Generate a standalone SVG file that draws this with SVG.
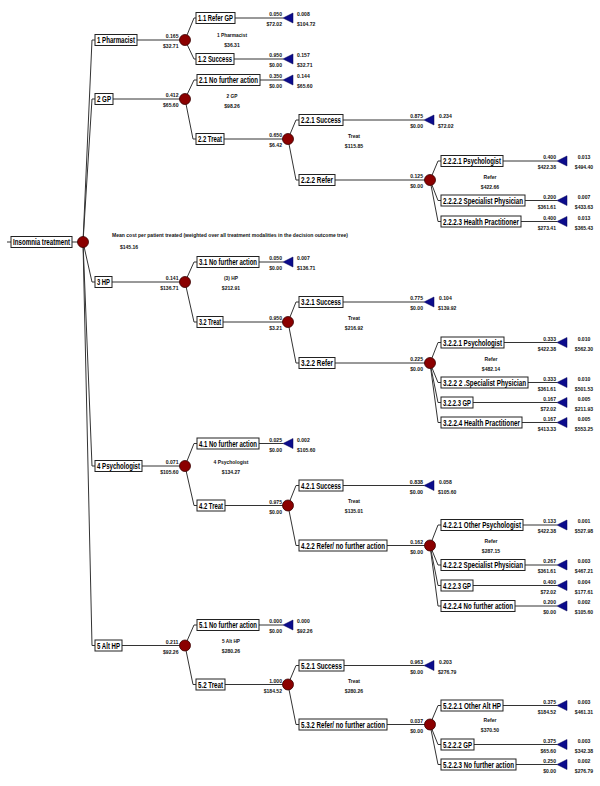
<svg xmlns="http://www.w3.org/2000/svg" width="600" height="786" viewBox="0 0 600 786">
<style>
.ln{stroke:#333;stroke-width:1;fill:none}
.bx{fill:#fff;stroke:#222;stroke-width:1}
.lb{font-family:"Liberation Sans",Arial,sans-serif;font-size:8.5px;font-weight:bold;fill:#000}
.sm{font-family:"Liberation Sans",Arial,sans-serif;font-size:6px;font-weight:bold;fill:#111}
.ch{fill:#8b0000;stroke:#3a0000;stroke-width:0.8}
.tm{fill:#0c0c8c;stroke:#000050;stroke-width:0.5}
</style>
<rect width="600" height="786" fill="#fff"/>
<g id="connectors">
<path class="ln" d="M7,242H83"/>
<path class="ln" d="M83,242L92,40H95M83,242L92,99H95M83,242L92,282H95M83,242L92,466H95M83,242L92,645.5H95"/>
<path class="ln" d="M137,40H185M185,40L194,18H196M185,40L194,59H196"/>
<path class="ln" d="M235,18H283M234,59H283"/>
<path class="ln" d="M113,99H185M185,99L194,80H197M185,99L193,139H196"/>
<path class="ln" d="M260,80H283M224,139H288M288,139L296,120H299M288,139L296,180H299"/>
<path class="ln" d="M343,120H424M335,180H430M430,180L438,161H441M430,180L438,200.5H441M430,180L438,221.5H441"/>
<path class="ln" d="M503,161H557M525,200.5H557M521,221.5H557"/>
<path class="ln" d="M112,282H185M185,282L194,262H197M185,282L194,322H197"/>
<path class="ln" d="M259,262H283M223,322H288M288,322L296,302H299M288,322L296,363H299"/>
<path class="ln" d="M343,302H424M335,363H430M430,363L438,342.5H441M430,363L438,382.5H441M430,363L438,402.5H441M430,363L438,422.5H441"/>
<path class="ln" d="M504,342.5H557M528,382.5H557M473,402.5H557M522,422.5H557"/>
<path class="ln" d="M142,466H185M185,466L194,443.5H197M185,466L194,505.5H197"/>
<path class="ln" d="M259,443.5H283M225,505.5H288M288,505.5L296,485.5H299M288,505.5L296,545.5H299"/>
<path class="ln" d="M343,485.5H424M387,545.5H430M430,545.5L438,525H441M430,545.5L438,565H441M430,545.5L438,585.5H441M430,545.5L438,606H441"/>
<path class="ln" d="M523,525H557M525,565H557M473,585.5H557M515,606H557"/>
<path class="ln" d="M122,645.5H185M185,645.5L194,625H197M185,645.5L193,684.5H196"/>
<path class="ln" d="M259,625H283M225,684.5H288M288,684.5L296,665.5H299M288,684.5L296,724.5H299"/>
<path class="ln" d="M344,665.5H424M387,724.5H430M430,724.5L438,705.5H441M430,724.5L438,744.5H441M430,724.5L438,764.5H441"/>
<path class="ln" d="M503,705.5H557M474,744.5H557M516,764.5H557"/>
</g>
<g id="n-root">
<rect class="bx" x="11" y="236.5" width="61" height="11"/>
<text class="lb" x="13" y="245" textLength="57" lengthAdjust="spacingAndGlyphs">Insomnia treatment</text>
<circle class="ch" cx="83" cy="242" r="5.5"/>
<text class="sm" x="112" y="237" textLength="236" lengthAdjust="spacingAndGlyphs">Mean cost per patient treated (weighted over all treatment modalities in the decision outcome tree)</text>
<text class="sm" x="119.9" y="249" textLength="18.3" lengthAdjust="spacingAndGlyphs">$145.16</text>
</g>
<g id="n-1">
<rect class="bx" x="95" y="34.5" width="42" height="11"/>
<text class="lb" x="97" y="43" textLength="38" lengthAdjust="spacingAndGlyphs">1 Pharmacist</text>
<circle class="ch" cx="185" cy="40" r="5.5"/>
<text class="sm" x="165.8" y="38" textLength="12.7" lengthAdjust="spacingAndGlyphs">0.165</text>
<text class="sm" x="163" y="48" textLength="15.5" lengthAdjust="spacingAndGlyphs">$32.71</text>
<text class="sm" x="217" y="36.5" textLength="30" lengthAdjust="spacingAndGlyphs">1 Pharmacist</text>
<text class="sm" x="224.25" y="46.5" textLength="15.5" lengthAdjust="spacingAndGlyphs">$36.31</text>
</g>
<g id="n-1-1">
<rect class="bx" x="196" y="12.5" width="39" height="11"/>
<text class="lb" x="198" y="21" textLength="35" lengthAdjust="spacingAndGlyphs">1.1 Refer GP</text>
<polygon class="tm" points="283,18 293,13 293,23"/>
<text class="sm" x="269.3" y="16" textLength="12.7" lengthAdjust="spacingAndGlyphs">0.050</text>
<text class="sm" x="266.5" y="26" textLength="15.5" lengthAdjust="spacingAndGlyphs">$72.02</text>
<text class="sm" x="297" y="16" textLength="12.7" lengthAdjust="spacingAndGlyphs">0.008</text>
<text class="sm" x="297" y="26" textLength="18.3" lengthAdjust="spacingAndGlyphs">$104.72</text>
</g>
<g id="n-1-2">
<rect class="bx" x="196" y="53.5" width="38" height="11"/>
<text class="lb" x="198" y="62" textLength="34" lengthAdjust="spacingAndGlyphs">1.2 Success</text>
<polygon class="tm" points="283,59 293,54 293,64"/>
<text class="sm" x="269.3" y="57" textLength="12.7" lengthAdjust="spacingAndGlyphs">0.950</text>
<text class="sm" x="269.3" y="67" textLength="12.7" lengthAdjust="spacingAndGlyphs">$0.00</text>
<text class="sm" x="297" y="57" textLength="12.7" lengthAdjust="spacingAndGlyphs">0.157</text>
<text class="sm" x="297" y="67" textLength="15.5" lengthAdjust="spacingAndGlyphs">$32.71</text>
</g>
<g id="n-2">
<rect class="bx" x="95" y="93.5" width="18" height="11"/>
<text class="lb" x="97" y="102" textLength="14" lengthAdjust="spacingAndGlyphs">2 GP</text>
<circle class="ch" cx="185" cy="99" r="5.5"/>
<text class="sm" x="165.8" y="97" textLength="12.7" lengthAdjust="spacingAndGlyphs">0.412</text>
<text class="sm" x="163" y="107" textLength="15.5" lengthAdjust="spacingAndGlyphs">$65.60</text>
<text class="sm" x="226.5" y="97.5" textLength="11" lengthAdjust="spacingAndGlyphs">2 GP</text>
<text class="sm" x="224.25" y="107.5" textLength="15.5" lengthAdjust="spacingAndGlyphs">$98.26</text>
</g>
<g id="n-2-1">
<rect class="bx" x="197" y="74.5" width="63" height="11"/>
<text class="lb" x="199" y="83" textLength="59" lengthAdjust="spacingAndGlyphs">2.1 No further action</text>
<polygon class="tm" points="283,80 293,75 293,85"/>
<text class="sm" x="269.3" y="78" textLength="12.7" lengthAdjust="spacingAndGlyphs">0.350</text>
<text class="sm" x="269.3" y="88" textLength="12.7" lengthAdjust="spacingAndGlyphs">$0.00</text>
<text class="sm" x="297" y="78" textLength="12.7" lengthAdjust="spacingAndGlyphs">0.144</text>
<text class="sm" x="297" y="88" textLength="15.5" lengthAdjust="spacingAndGlyphs">$65.60</text>
</g>
<g id="n-2-2">
<rect class="bx" x="196" y="133.5" width="28" height="11"/>
<text class="lb" x="198" y="142" textLength="24" lengthAdjust="spacingAndGlyphs">2.2 Treat</text>
<circle class="ch" cx="288" cy="139" r="5.5"/>
<text class="sm" x="269.3" y="137" textLength="12.7" lengthAdjust="spacingAndGlyphs">0.650</text>
<text class="sm" x="269.3" y="147" textLength="12.7" lengthAdjust="spacingAndGlyphs">$6.42</text>
<text class="sm" x="348" y="137.5" textLength="12" lengthAdjust="spacingAndGlyphs">Treat</text>
<text class="sm" x="344.85" y="148" textLength="18.3" lengthAdjust="spacingAndGlyphs">$115.85</text>
</g>
<g id="n-2-2-1">
<rect class="bx" x="299" y="114.5" width="44" height="11"/>
<text class="lb" x="301" y="123" textLength="40" lengthAdjust="spacingAndGlyphs">2.2.1 Success</text>
<polygon class="tm" points="424,120 434,115 434,125"/>
<text class="sm" x="410.3" y="118" textLength="12.7" lengthAdjust="spacingAndGlyphs">0.875</text>
<text class="sm" x="410.3" y="128" textLength="12.7" lengthAdjust="spacingAndGlyphs">$0.00</text>
<text class="sm" x="439" y="118" textLength="12.7" lengthAdjust="spacingAndGlyphs">0.234</text>
<text class="sm" x="438" y="128" textLength="15.5" lengthAdjust="spacingAndGlyphs">$72.02</text>
</g>
<g id="n-2-2-2">
<rect class="bx" x="299" y="174.5" width="36" height="11"/>
<text class="lb" x="301" y="183" textLength="32" lengthAdjust="spacingAndGlyphs">2.2.2 Refer</text>
<circle class="ch" cx="430" cy="180" r="5.5"/>
<text class="sm" x="410.3" y="178" textLength="12.7" lengthAdjust="spacingAndGlyphs">0.125</text>
<text class="sm" x="410.3" y="188" textLength="12.7" lengthAdjust="spacingAndGlyphs">$0.00</text>
<text class="sm" x="483.5" y="178.5" textLength="13" lengthAdjust="spacingAndGlyphs">Refer</text>
<text class="sm" x="480.85" y="188.5" textLength="18.3" lengthAdjust="spacingAndGlyphs">$422.66</text>
</g>
<g id="n-2-2-2-1">
<rect class="bx" x="441" y="155.5" width="62" height="11"/>
<text class="lb" x="443" y="164" textLength="58" lengthAdjust="spacingAndGlyphs">2.2.2.1 Psychologist</text>
<polygon class="tm" points="557,161 567,156 567,166"/>
<text class="sm" x="543.3" y="159" textLength="12.7" lengthAdjust="spacingAndGlyphs">0.400</text>
<text class="sm" x="537.7" y="169" textLength="18.3" lengthAdjust="spacingAndGlyphs">$422.38</text>
<text class="sm" x="577.65" y="159" textLength="12.7" lengthAdjust="spacingAndGlyphs">0.013</text>
<text class="sm" x="574.85" y="169" textLength="18.3" lengthAdjust="spacingAndGlyphs">$494.40</text>
</g>
<g id="n-2-2-2-2">
<rect class="bx" x="441" y="195" width="84" height="11"/>
<text class="lb" x="443" y="203.5" textLength="80" lengthAdjust="spacingAndGlyphs">2.2.2.2 Specialist Physician</text>
<polygon class="tm" points="557,200.5 567,195.5 567,205.5"/>
<text class="sm" x="543.3" y="198.5" textLength="12.7" lengthAdjust="spacingAndGlyphs">0.200</text>
<text class="sm" x="537.7" y="208.5" textLength="18.3" lengthAdjust="spacingAndGlyphs">$361.61</text>
<text class="sm" x="577.65" y="198.5" textLength="12.7" lengthAdjust="spacingAndGlyphs">0.007</text>
<text class="sm" x="574.85" y="208.5" textLength="18.3" lengthAdjust="spacingAndGlyphs">$433.63</text>
</g>
<g id="n-2-2-2-3">
<rect class="bx" x="441" y="216" width="80" height="11"/>
<text class="lb" x="443" y="224.5" textLength="76" lengthAdjust="spacingAndGlyphs">2.2.2.3 Health Practitioner</text>
<polygon class="tm" points="557,221.5 567,216.5 567,226.5"/>
<text class="sm" x="543.3" y="219.5" textLength="12.7" lengthAdjust="spacingAndGlyphs">0.400</text>
<text class="sm" x="537.7" y="229.5" textLength="18.3" lengthAdjust="spacingAndGlyphs">$273.41</text>
<text class="sm" x="577.65" y="219.5" textLength="12.7" lengthAdjust="spacingAndGlyphs">0.013</text>
<text class="sm" x="574.85" y="229.5" textLength="18.3" lengthAdjust="spacingAndGlyphs">$365.43</text>
</g>
<g id="n-3">
<rect class="bx" x="95" y="276.5" width="17" height="11"/>
<text class="lb" x="97" y="285" textLength="13" lengthAdjust="spacingAndGlyphs">3 HP</text>
<circle class="ch" cx="185" cy="282" r="5.5"/>
<text class="sm" x="165.8" y="280" textLength="12.7" lengthAdjust="spacingAndGlyphs">0.141</text>
<text class="sm" x="160.2" y="290" textLength="18.3" lengthAdjust="spacingAndGlyphs">$136.71</text>
<text class="sm" x="224" y="279.5" textLength="14" lengthAdjust="spacingAndGlyphs">(3) HP</text>
<text class="sm" x="221.85" y="289.5" textLength="18.3" lengthAdjust="spacingAndGlyphs">$212.91</text>
</g>
<g id="n-3-1">
<rect class="bx" x="197" y="256.5" width="62" height="11"/>
<text class="lb" x="199" y="265" textLength="58" lengthAdjust="spacingAndGlyphs">3.1 No further action</text>
<polygon class="tm" points="283,262 293,257 293,267"/>
<text class="sm" x="269.3" y="260" textLength="12.7" lengthAdjust="spacingAndGlyphs">0.050</text>
<text class="sm" x="269.3" y="270" textLength="12.7" lengthAdjust="spacingAndGlyphs">$0.00</text>
<text class="sm" x="297" y="260" textLength="12.7" lengthAdjust="spacingAndGlyphs">0.007</text>
<text class="sm" x="297" y="270" textLength="18.3" lengthAdjust="spacingAndGlyphs">$136.71</text>
</g>
<g id="n-3-2">
<rect class="bx" x="197" y="316.5" width="26" height="11"/>
<text class="lb" x="199" y="325" textLength="22" lengthAdjust="spacingAndGlyphs">3.2 Treat</text>
<circle class="ch" cx="288" cy="322" r="5.5"/>
<text class="sm" x="269.3" y="320" textLength="12.7" lengthAdjust="spacingAndGlyphs">0.950</text>
<text class="sm" x="269.3" y="330" textLength="12.7" lengthAdjust="spacingAndGlyphs">$3.21</text>
<text class="sm" x="348" y="319.5" textLength="12" lengthAdjust="spacingAndGlyphs">Treat</text>
<text class="sm" x="344.85" y="329.5" textLength="18.3" lengthAdjust="spacingAndGlyphs">$216.92</text>
</g>
<g id="n-3-2-1">
<rect class="bx" x="299" y="296.5" width="44" height="11"/>
<text class="lb" x="301" y="305" textLength="40" lengthAdjust="spacingAndGlyphs">3.2.1 Success</text>
<polygon class="tm" points="424,302 434,297 434,307"/>
<text class="sm" x="410.3" y="300" textLength="12.7" lengthAdjust="spacingAndGlyphs">0.775</text>
<text class="sm" x="410.3" y="310" textLength="12.7" lengthAdjust="spacingAndGlyphs">$0.00</text>
<text class="sm" x="439" y="300" textLength="12.7" lengthAdjust="spacingAndGlyphs">0.104</text>
<text class="sm" x="438" y="310" textLength="18.3" lengthAdjust="spacingAndGlyphs">$139.92</text>
</g>
<g id="n-3-2-2">
<rect class="bx" x="299" y="357.5" width="36" height="11"/>
<text class="lb" x="301" y="366" textLength="32" lengthAdjust="spacingAndGlyphs">3.2.2 Refer</text>
<circle class="ch" cx="430" cy="363" r="5.5"/>
<text class="sm" x="410.3" y="361" textLength="12.7" lengthAdjust="spacingAndGlyphs">0.225</text>
<text class="sm" x="410.3" y="371" textLength="12.7" lengthAdjust="spacingAndGlyphs">$0.00</text>
<text class="sm" x="484.5" y="360.5" textLength="13" lengthAdjust="spacingAndGlyphs">Refer</text>
<text class="sm" x="481.85" y="370.5" textLength="18.3" lengthAdjust="spacingAndGlyphs">$482.14</text>
</g>
<g id="n-3-2-2-1">
<rect class="bx" x="441" y="337" width="63" height="11"/>
<text class="lb" x="443" y="345.5" textLength="59" lengthAdjust="spacingAndGlyphs">3.2.2.1 Psychologist</text>
<polygon class="tm" points="557,342.5 567,337.5 567,347.5"/>
<text class="sm" x="543.3" y="340.5" textLength="12.7" lengthAdjust="spacingAndGlyphs">0.333</text>
<text class="sm" x="537.7" y="350.5" textLength="18.3" lengthAdjust="spacingAndGlyphs">$422.38</text>
<text class="sm" x="577.65" y="340.5" textLength="12.7" lengthAdjust="spacingAndGlyphs">0.010</text>
<text class="sm" x="574.85" y="350.5" textLength="18.3" lengthAdjust="spacingAndGlyphs">$562.30</text>
</g>
<g id="n-3-2-2-2">
<rect class="bx" x="441" y="377" width="87" height="11"/>
<text class="lb" x="443" y="385.5" textLength="83" lengthAdjust="spacingAndGlyphs">3.2.2 2 .Specialist Physician</text>
<polygon class="tm" points="557,382.5 567,377.5 567,387.5"/>
<text class="sm" x="543.3" y="380.5" textLength="12.7" lengthAdjust="spacingAndGlyphs">0.333</text>
<text class="sm" x="537.7" y="390.5" textLength="18.3" lengthAdjust="spacingAndGlyphs">$361.61</text>
<text class="sm" x="577.65" y="380.5" textLength="12.7" lengthAdjust="spacingAndGlyphs">0.010</text>
<text class="sm" x="574.85" y="390.5" textLength="18.3" lengthAdjust="spacingAndGlyphs">$501.53</text>
</g>
<g id="n-3-2-2-3">
<rect class="bx" x="441" y="397" width="32" height="11"/>
<text class="lb" x="443" y="405.5" textLength="28" lengthAdjust="spacingAndGlyphs">3.2.2.3 GP</text>
<polygon class="tm" points="557,402.5 567,397.5 567,407.5"/>
<text class="sm" x="543.3" y="400.5" textLength="12.7" lengthAdjust="spacingAndGlyphs">0.167</text>
<text class="sm" x="540.5" y="410.5" textLength="15.5" lengthAdjust="spacingAndGlyphs">$72.02</text>
<text class="sm" x="577.65" y="400.5" textLength="12.7" lengthAdjust="spacingAndGlyphs">0.005</text>
<text class="sm" x="574.85" y="410.5" textLength="18.3" lengthAdjust="spacingAndGlyphs">$211.93</text>
</g>
<g id="n-3-2-2-4">
<rect class="bx" x="441" y="417" width="81" height="11"/>
<text class="lb" x="443" y="425.5" textLength="77" lengthAdjust="spacingAndGlyphs">3.2.2.4 Health Practitioner</text>
<polygon class="tm" points="557,422.5 567,417.5 567,427.5"/>
<text class="sm" x="543.3" y="420.5" textLength="12.7" lengthAdjust="spacingAndGlyphs">0.167</text>
<text class="sm" x="537.7" y="430.5" textLength="18.3" lengthAdjust="spacingAndGlyphs">$413.33</text>
<text class="sm" x="577.65" y="420.5" textLength="12.7" lengthAdjust="spacingAndGlyphs">0.005</text>
<text class="sm" x="574.85" y="430.5" textLength="18.3" lengthAdjust="spacingAndGlyphs">$553.25</text>
</g>
<g id="n-4">
<rect class="bx" x="95" y="460.5" width="47" height="11"/>
<text class="lb" x="97" y="469" textLength="43" lengthAdjust="spacingAndGlyphs">4 Psychologist</text>
<circle class="ch" cx="185" cy="466" r="5.5"/>
<text class="sm" x="165.8" y="464" textLength="12.7" lengthAdjust="spacingAndGlyphs">0.071</text>
<text class="sm" x="160.2" y="474" textLength="18.3" lengthAdjust="spacingAndGlyphs">$105.60</text>
<text class="sm" x="213.5" y="463.5" textLength="35" lengthAdjust="spacingAndGlyphs">4 Psychologist</text>
<text class="sm" x="221.85" y="473.5" textLength="18.3" lengthAdjust="spacingAndGlyphs">$134.27</text>
</g>
<g id="n-4-1">
<rect class="bx" x="197" y="438" width="62" height="11"/>
<text class="lb" x="199" y="446.5" textLength="58" lengthAdjust="spacingAndGlyphs">4.1 No further action</text>
<polygon class="tm" points="283,443.5 293,438.5 293,448.5"/>
<text class="sm" x="269.3" y="441.5" textLength="12.7" lengthAdjust="spacingAndGlyphs">0.025</text>
<text class="sm" x="269.3" y="451.5" textLength="12.7" lengthAdjust="spacingAndGlyphs">$0.00</text>
<text class="sm" x="297" y="441.5" textLength="12.7" lengthAdjust="spacingAndGlyphs">0.002</text>
<text class="sm" x="297" y="451.5" textLength="18.3" lengthAdjust="spacingAndGlyphs">$105.60</text>
</g>
<g id="n-4-2">
<rect class="bx" x="197" y="500" width="28" height="11"/>
<text class="lb" x="199" y="508.5" textLength="24" lengthAdjust="spacingAndGlyphs">4.2 Treat</text>
<circle class="ch" cx="288" cy="505.5" r="5.5"/>
<text class="sm" x="269.3" y="503.5" textLength="12.7" lengthAdjust="spacingAndGlyphs">0.975</text>
<text class="sm" x="269.3" y="513.5" textLength="12.7" lengthAdjust="spacingAndGlyphs">$0.00</text>
<text class="sm" x="348" y="502.5" textLength="12" lengthAdjust="spacingAndGlyphs">Treat</text>
<text class="sm" x="344.85" y="512.5" textLength="18.3" lengthAdjust="spacingAndGlyphs">$135.01</text>
</g>
<g id="n-4-2-1">
<rect class="bx" x="299" y="480" width="44" height="11"/>
<text class="lb" x="301" y="488.5" textLength="40" lengthAdjust="spacingAndGlyphs">4.2.1 Success</text>
<polygon class="tm" points="424,485.5 434,480.5 434,490.5"/>
<text class="sm" x="409.8" y="483.5" textLength="13.2" lengthAdjust="spacingAndGlyphs">0.838</text>
<text class="sm" x="409.8" y="493.5" textLength="13.2" lengthAdjust="spacingAndGlyphs">$0.00</text>
<text class="sm" x="439" y="483.5" textLength="12.7" lengthAdjust="spacingAndGlyphs">0.058</text>
<text class="sm" x="438" y="493.5" textLength="18.3" lengthAdjust="spacingAndGlyphs">$105.60</text>
</g>
<g id="n-4-2-2">
<rect class="bx" x="299" y="540" width="88" height="11"/>
<text class="lb" x="301" y="548.5" textLength="84" lengthAdjust="spacingAndGlyphs">4.2.2 Refer/ no further action</text>
<circle class="ch" cx="430" cy="545.5" r="5.5"/>
<text class="sm" x="410.3" y="543.5" textLength="12.7" lengthAdjust="spacingAndGlyphs">0.162</text>
<text class="sm" x="410.3" y="553.5" textLength="12.7" lengthAdjust="spacingAndGlyphs">$0.00</text>
<text class="sm" x="484.5" y="542.5" textLength="13" lengthAdjust="spacingAndGlyphs">Refer</text>
<text class="sm" x="481.85" y="552.5" textLength="18.3" lengthAdjust="spacingAndGlyphs">$287.15</text>
</g>
<g id="n-4-2-2-1">
<rect class="bx" x="441" y="519.5" width="82" height="11"/>
<text class="lb" x="443" y="528" textLength="78" lengthAdjust="spacingAndGlyphs">4.2.2.1 Other Psychologist</text>
<polygon class="tm" points="557,525 567,520 567,530"/>
<text class="sm" x="543.3" y="523" textLength="12.7" lengthAdjust="spacingAndGlyphs">0.133</text>
<text class="sm" x="537.7" y="533" textLength="18.3" lengthAdjust="spacingAndGlyphs">$422.38</text>
<text class="sm" x="577.65" y="523" textLength="12.7" lengthAdjust="spacingAndGlyphs">0.001</text>
<text class="sm" x="574.85" y="533" textLength="18.3" lengthAdjust="spacingAndGlyphs">$527.98</text>
</g>
<g id="n-4-2-2-2">
<rect class="bx" x="441" y="559.5" width="84" height="11"/>
<text class="lb" x="443" y="568" textLength="80" lengthAdjust="spacingAndGlyphs">4.2.2.2 Specialist Physician</text>
<polygon class="tm" points="557,565 567,560 567,570"/>
<text class="sm" x="543.3" y="563" textLength="12.7" lengthAdjust="spacingAndGlyphs">0.267</text>
<text class="sm" x="537.7" y="573" textLength="18.3" lengthAdjust="spacingAndGlyphs">$361.61</text>
<text class="sm" x="577.65" y="563" textLength="12.7" lengthAdjust="spacingAndGlyphs">0.003</text>
<text class="sm" x="574.85" y="573" textLength="18.3" lengthAdjust="spacingAndGlyphs">$467.21</text>
</g>
<g id="n-4-2-2-3">
<rect class="bx" x="441" y="580" width="32" height="11"/>
<text class="lb" x="443" y="588.5" textLength="28" lengthAdjust="spacingAndGlyphs">4.2.2.3 GP</text>
<polygon class="tm" points="557,585.5 567,580.5 567,590.5"/>
<text class="sm" x="543.3" y="583.5" textLength="12.7" lengthAdjust="spacingAndGlyphs">0.400</text>
<text class="sm" x="540.5" y="593.5" textLength="15.5" lengthAdjust="spacingAndGlyphs">$72.02</text>
<text class="sm" x="577.65" y="583.5" textLength="12.7" lengthAdjust="spacingAndGlyphs">0.004</text>
<text class="sm" x="574.85" y="593.5" textLength="18.3" lengthAdjust="spacingAndGlyphs">$177.61</text>
</g>
<g id="n-4-2-2-4">
<rect class="bx" x="441" y="600.5" width="74" height="11"/>
<text class="lb" x="443" y="609" textLength="70" lengthAdjust="spacingAndGlyphs">4.2.2.4 No further action</text>
<polygon class="tm" points="557,606 567,601 567,611"/>
<text class="sm" x="543.3" y="604" textLength="12.7" lengthAdjust="spacingAndGlyphs">0.200</text>
<text class="sm" x="543.3" y="614" textLength="12.7" lengthAdjust="spacingAndGlyphs">$0.00</text>
<text class="sm" x="577.65" y="604" textLength="12.7" lengthAdjust="spacingAndGlyphs">0.002</text>
<text class="sm" x="574.85" y="614" textLength="18.3" lengthAdjust="spacingAndGlyphs">$105.60</text>
</g>
<g id="n-5">
<rect class="bx" x="95" y="640" width="27" height="11"/>
<text class="lb" x="97" y="648.5" textLength="23" lengthAdjust="spacingAndGlyphs">5 Alt HP</text>
<circle class="ch" cx="185" cy="645.5" r="5.5"/>
<text class="sm" x="165.8" y="643.5" textLength="12.7" lengthAdjust="spacingAndGlyphs">0.211</text>
<text class="sm" x="163" y="653.5" textLength="15.5" lengthAdjust="spacingAndGlyphs">$92.26</text>
<text class="sm" x="222" y="642.5" textLength="18" lengthAdjust="spacingAndGlyphs">5 Alt HP</text>
<text class="sm" x="221.85" y="652.5" textLength="18.3" lengthAdjust="spacingAndGlyphs">$280.26</text>
</g>
<g id="n-5-1">
<rect class="bx" x="197" y="619.5" width="62" height="11"/>
<text class="lb" x="199" y="628" textLength="58" lengthAdjust="spacingAndGlyphs">5.1 No further action</text>
<polygon class="tm" points="283,625 293,620 293,630"/>
<text class="sm" x="269.3" y="623" textLength="12.7" lengthAdjust="spacingAndGlyphs">0.000</text>
<text class="sm" x="269.3" y="633" textLength="12.7" lengthAdjust="spacingAndGlyphs">$0.00</text>
<text class="sm" x="297" y="623" textLength="12.7" lengthAdjust="spacingAndGlyphs">0.000</text>
<text class="sm" x="297" y="633" textLength="15.5" lengthAdjust="spacingAndGlyphs">$92.26</text>
</g>
<g id="n-5-2">
<rect class="bx" x="196" y="679" width="29" height="11"/>
<text class="lb" x="198" y="687.5" textLength="25" lengthAdjust="spacingAndGlyphs">5.2 Treat</text>
<circle class="ch" cx="288" cy="684.5" r="5.5"/>
<text class="sm" x="269.3" y="682.5" textLength="12.7" lengthAdjust="spacingAndGlyphs">1.000</text>
<text class="sm" x="263.7" y="692.5" textLength="18.3" lengthAdjust="spacingAndGlyphs">$184.52</text>
<text class="sm" x="348" y="682.5" textLength="12" lengthAdjust="spacingAndGlyphs">Treat</text>
<text class="sm" x="344.85" y="693" textLength="18.3" lengthAdjust="spacingAndGlyphs">$280.26</text>
</g>
<g id="n-5-2-1">
<rect class="bx" x="299" y="660" width="45" height="11"/>
<text class="lb" x="301" y="668.5" textLength="41" lengthAdjust="spacingAndGlyphs">5.2.1 Success</text>
<polygon class="tm" points="424,665.5 434,660.5 434,670.5"/>
<text class="sm" x="410.3" y="663.5" textLength="12.7" lengthAdjust="spacingAndGlyphs">0.963</text>
<text class="sm" x="410.3" y="673.5" textLength="12.7" lengthAdjust="spacingAndGlyphs">$0.00</text>
<text class="sm" x="439" y="663.5" textLength="12.7" lengthAdjust="spacingAndGlyphs">0.203</text>
<text class="sm" x="438" y="673.5" textLength="18.3" lengthAdjust="spacingAndGlyphs">$276.79</text>
</g>
<g id="n-5-3-2">
<rect class="bx" x="299" y="719" width="88" height="11"/>
<text class="lb" x="301" y="727.5" textLength="84" lengthAdjust="spacingAndGlyphs">5.3.2 Refer/ no further action</text>
<circle class="ch" cx="430" cy="724.5" r="5.5"/>
<text class="sm" x="410.3" y="722.5" textLength="12.7" lengthAdjust="spacingAndGlyphs">0.037</text>
<text class="sm" x="410.3" y="732.5" textLength="12.7" lengthAdjust="spacingAndGlyphs">$0.00</text>
<text class="sm" x="483.5" y="721.5" textLength="13" lengthAdjust="spacingAndGlyphs">Refer</text>
<text class="sm" x="480.85" y="731.5" textLength="18.3" lengthAdjust="spacingAndGlyphs">$370.50</text>
</g>
<g id="n-5-2-2-1">
<rect class="bx" x="441" y="700" width="62" height="11"/>
<text class="lb" x="443" y="708.5" textLength="58" lengthAdjust="spacingAndGlyphs">5.2.2.1 Other Alt HP</text>
<polygon class="tm" points="557,705.5 567,700.5 567,710.5"/>
<text class="sm" x="543.3" y="703.5" textLength="12.7" lengthAdjust="spacingAndGlyphs">0.375</text>
<text class="sm" x="537.7" y="713.5" textLength="18.3" lengthAdjust="spacingAndGlyphs">$184.52</text>
<text class="sm" x="577.65" y="703.5" textLength="12.7" lengthAdjust="spacingAndGlyphs">0.003</text>
<text class="sm" x="574.85" y="713.5" textLength="18.3" lengthAdjust="spacingAndGlyphs">$461.31</text>
</g>
<g id="n-5-2-2-2">
<rect class="bx" x="441" y="739" width="33" height="11"/>
<text class="lb" x="443" y="747.5" textLength="29" lengthAdjust="spacingAndGlyphs">5.2.2.2 GP</text>
<polygon class="tm" points="557,744.5 567,739.5 567,749.5"/>
<text class="sm" x="543.3" y="742.5" textLength="12.7" lengthAdjust="spacingAndGlyphs">0.375</text>
<text class="sm" x="540.5" y="752.5" textLength="15.5" lengthAdjust="spacingAndGlyphs">$65.60</text>
<text class="sm" x="577.65" y="742.5" textLength="12.7" lengthAdjust="spacingAndGlyphs">0.003</text>
<text class="sm" x="574.85" y="752.5" textLength="18.3" lengthAdjust="spacingAndGlyphs">$342.38</text>
</g>
<g id="n-5-2-2-3">
<rect class="bx" x="441" y="759" width="75" height="11"/>
<text class="lb" x="443" y="767.5" textLength="71" lengthAdjust="spacingAndGlyphs">5.2.2.3 No further action</text>
<polygon class="tm" points="557,764.5 567,759.5 567,769.5"/>
<text class="sm" x="543.3" y="762.5" textLength="12.7" lengthAdjust="spacingAndGlyphs">0.250</text>
<text class="sm" x="543.3" y="772.5" textLength="12.7" lengthAdjust="spacingAndGlyphs">$0.00</text>
<text class="sm" x="577.65" y="762.5" textLength="12.7" lengthAdjust="spacingAndGlyphs">0.002</text>
<text class="sm" x="574.85" y="772.5" textLength="18.3" lengthAdjust="spacingAndGlyphs">$276.79</text>
</g>
</svg>
